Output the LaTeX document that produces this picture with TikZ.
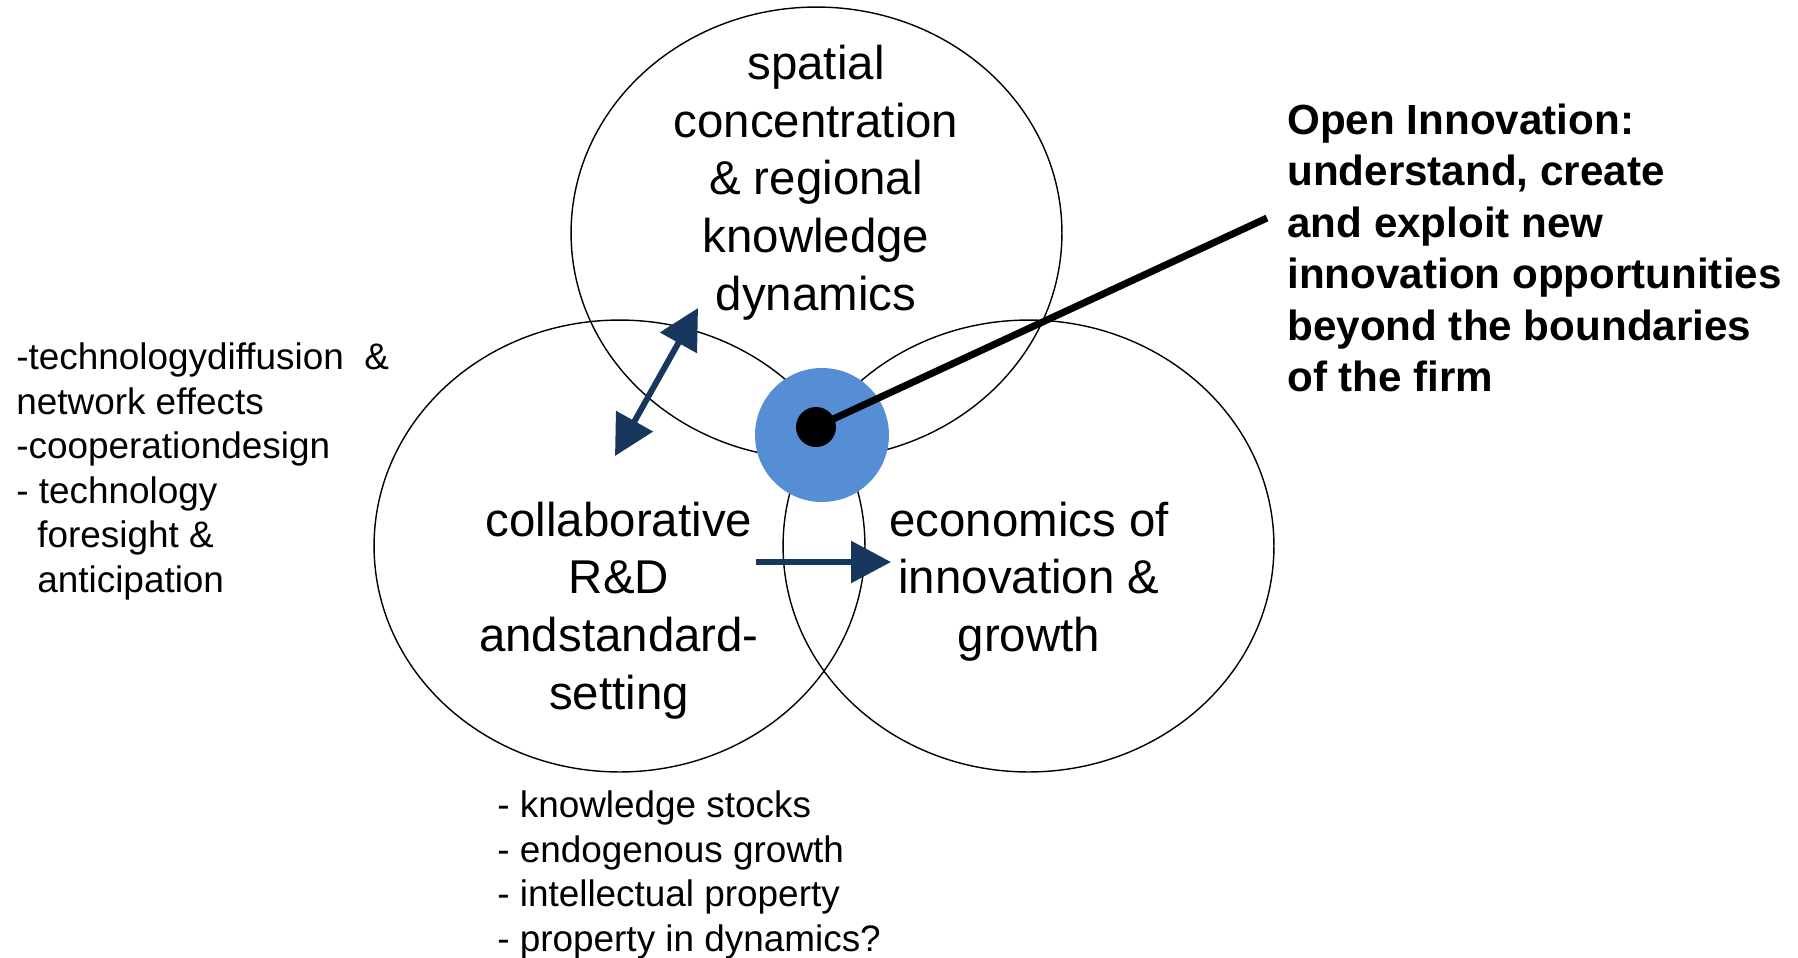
\documentclass[tikz,border=0pt]{standalone}
\usepackage{fontspec}
\setmainfont{Liberation Sans}
\usetikzlibrary{shapes.geometric,arrows.meta}

\definecolor{navy}{RGB}{23,55,94}
\definecolor{oiblue}{RGB}{85,142,213}

\tikzset{
  bubble/.style={draw, ellipse, line width=0.8pt, minimum width=9.82cm, minimum height=9.04cm, inner sep=0pt},
  bubbletext/.style={align=center, inner sep=0pt, font=\fontsize{27pt}{32.8pt}\selectfont},
  notetext/.style={align=left, inner sep=0pt, anchor=west, font=\fontsize{21pt}{25.4pt}\selectfont},
  oitext/.style={align=left, inner sep=0pt, anchor=west, font=\fontsize{24pt}{29.3pt}\selectfont\bfseries},
  navyarrow/.style={draw=navy, line width=3.4pt, -{Triangle[length=0.8cm, width=0.82cm]}},
}

\begin{document}
\begin{tikzpicture}[x=0.02cm, y=-0.02cm]
\useasboundingbox (0,0) rectangle (1798,957);

% the three fields
\node[bubble] (spatial) at (816.5,233) {};
\node[bubble] (collab) at (619.5,546) {};
\node[bubble] (econ) at (1028.5,546) {};

\node[bubbletext] (spatialtxt) at (816,182.5) {spatial\\concentration\\\& regional\\knowledge\\dynamics};
\node[bubbletext] (collabtxt) at (619,610.5) {collaborative\\R\&D\\andstandard-\\setting};
\node[bubbletext] (econtxt) at (1029,581.5) {economics of\\innovation \&\\growth};

% open innovation core
\node[circle, fill=oiblue, minimum size=2.68cm, inner sep=0pt] (core) at (822,435) {};
\coordinate (oiend) at (1267,218);
\draw[line width=4pt] (816,427) -- (oiend);
\node[circle, fill=black, minimum size=0.8cm, inner sep=0pt] (dot) at (816,427) {};

% arrows
\coordinate (da) at (615,456);
\coordinate (db) at (698,308);
\draw[navyarrow, {Triangle[length=0.8cm, width=0.82cm]}-{Triangle[length=0.8cm, width=0.82cm]}] (da) -- (db);
\coordinate (ra) at (756,562);
\coordinate (rb) at (891,562);
\draw[navyarrow] (ra) -- (rb);

% side notes
\node[notetext] (leftnote) at (16,471.5) {-technologydiffusion\ \ \&\\network effects\\-cooperationdesign\\- technology\\\hspace*{0.57em}foresight \&\\\hspace*{0.57em}anticipation};
\node[notetext] (bottomnote) at (497,875) {- knowledge stocks\\- endogenous growth\\- intellectual property\\- property in dynamics?};
\node[oitext] (oinote) at (1287,248) {Open Innovation:\\understand, create\\and exploit new\\innovation opportunities\\beyond the boundaries\\of the firm};

\end{tikzpicture}
\end{document}
